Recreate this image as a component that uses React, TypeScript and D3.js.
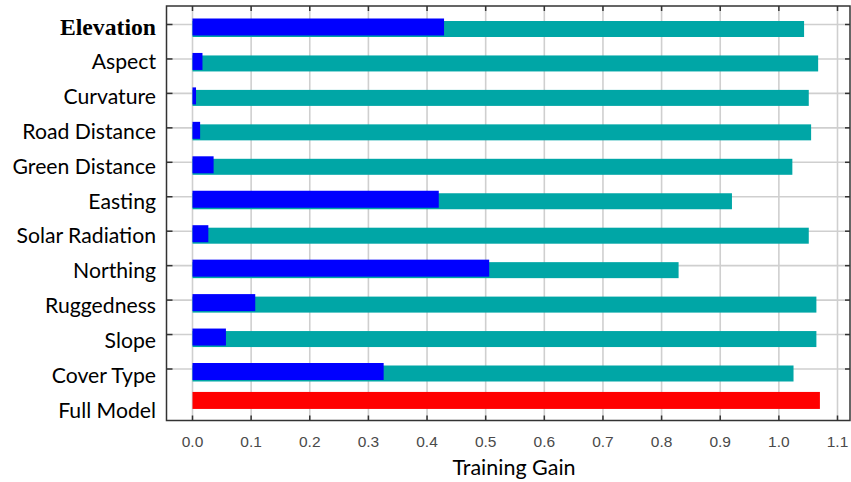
import React from "react";
import * as d3 from "d3";

const variables = [
  "Elevation",
  "Aspect",
  "Curvature",
  "Road Distance",
  "Green Distance",
  "Easting",
  "Solar Radiation",
  "Northing",
  "Ruggedness",
  "Slope",
  "Cover Type",
];
const fullModelLabel = "Full Model";
const withoutVariable = [1.043, 1.067, 1.051, 1.055, 1.023, 0.92, 1.051, 0.829, 1.064, 1.064, 1.025];
const withOnlyVariable = [0.429, 0.017, 0.006, 0.013, 0.036, 0.42, 0.027, 0.506, 0.107, 0.057, 0.326];
const fullModelGain = 1.07;
const xTicks = [0, 0.1, 0.2, 0.3, 0.4, 0.5, 0.6, 0.7, 0.8, 0.9, 1.0, 1.1];
const xTitle = "Training Gain";

const W = 851;
const H = 482;
const frame = { left: 166.5, top: 6, right: 850, bottom: 420.5 };

export default function App() {
  const x = d3.scaleLinear().domain([0, 1.1]).range([192.5, 837.5]);
  const rowY = d3.scalePoint<string>().domain(variables).range([24.5, 369]);
  const allLabels = [...variables, fullModelLabel];
  const labelY = d3.scalePoint<string>().domain(allLabels).range([27, 410]);
  const step = rowY.step();
  const fullY = (rowY(variables[variables.length - 1]) as number) + step * 0.84;

  const teal = "#00A6A6";
  const blue = "#0000FF";
  const red = "#FF0000";
  const grid = "#cfcfcf";
  const axis = "#333";

  return (
    <svg
      width={W}
      height={H}
      style={{ position: "absolute", left: 0, top: 0, background: "#fff" }}
    >
      <rect x={0} y={0} width={W} height={H} fill="#fff" />
      {xTicks.map((t) => (
        <line
          key={"vg" + t}
          x1={x(t)}
          x2={x(t)}
          y1={frame.top}
          y2={frame.bottom}
          stroke={grid}
          strokeWidth={1.6}
        />
      ))}
      {variables.map((v) => (
        <line
          key={"hg" + v}
          x1={frame.left}
          x2={frame.right}
          y1={rowY(v)}
          y2={rowY(v)}
          stroke={grid}
          strokeWidth={1.6}
        />
      ))}
      {variables.map((v, i) => {
        const y0 = rowY(v) as number;
        return (
          <g key={"b" + v}>
            <rect
              x={x(0)}
              y={y0 - 3.5}
              width={x(withoutVariable[i]) - x(0)}
              height={16}
              fill={teal}
            />
            <rect
              x={x(0)}
              y={y0 - 6}
              width={x(withOnlyVariable[i]) - x(0)}
              height={17}
              fill={blue}
            />
          </g>
        );
      })}
      <rect
        x={x(0)}
        y={fullY - 6}
        width={x(fullModelGain) - x(0)}
        height={17}
        fill={red}
      />
      <rect
        x={frame.left}
        y={frame.top}
        width={frame.right - frame.left}
        height={frame.bottom - frame.top}
        fill="none"
        stroke={axis}
        strokeWidth={1.5}
      />
      {xTicks.map((t) => (
        <g key={"xt" + t}>
          <line x1={x(t)} x2={x(t)} y1={frame.top} y2={frame.top + 5} stroke={axis} strokeWidth={1.5} />
          <line x1={x(t)} x2={x(t)} y1={frame.bottom} y2={frame.bottom - 5} stroke={axis} strokeWidth={1.5} />
          <text
            x={x(t)}
            y={446.5}
            textAnchor="middle"
            fontFamily="'Liberation Sans', Arial, sans-serif"
            fontSize={15.5}
            fill="#4a4a4a"
          >
            {d3.format(".1f")(t)}
          </text>
        </g>
      ))}
      {variables.map((v) => (
        <g key={"yt" + v}>
          <line x1={frame.left} x2={frame.left + 6} y1={rowY(v)} y2={rowY(v)} stroke={axis} strokeWidth={1.5} />
          <line x1={frame.right} x2={frame.right - 5} y1={rowY(v)} y2={rowY(v)} stroke={axis} strokeWidth={1.5} />
        </g>
      ))}
      {allLabels.map((l, i) => (
        <text
          key={"yl" + l}
          x={156}
          y={(labelY(l) as number) + 7.5}
          textAnchor="end"
          fontFamily={i === 0 ? "'Liberation Serif', 'Times New Roman', serif" : "Lato, 'Open Sans', sans-serif"}
          fontWeight={i === 0 ? 700 : 400}
          fontSize={i === 0 ? 23.7 : 21.2}
          fill="#000"
        >
          {l}
        </text>
      ))}
      <text
        x={514}
        y={475}
        textAnchor="middle"
        fontFamily="Lato, 'Open Sans', sans-serif"
        fontSize={21.5}
        fill="#000"
      >
        {xTitle}
      </text>
    </svg>
  );
}
